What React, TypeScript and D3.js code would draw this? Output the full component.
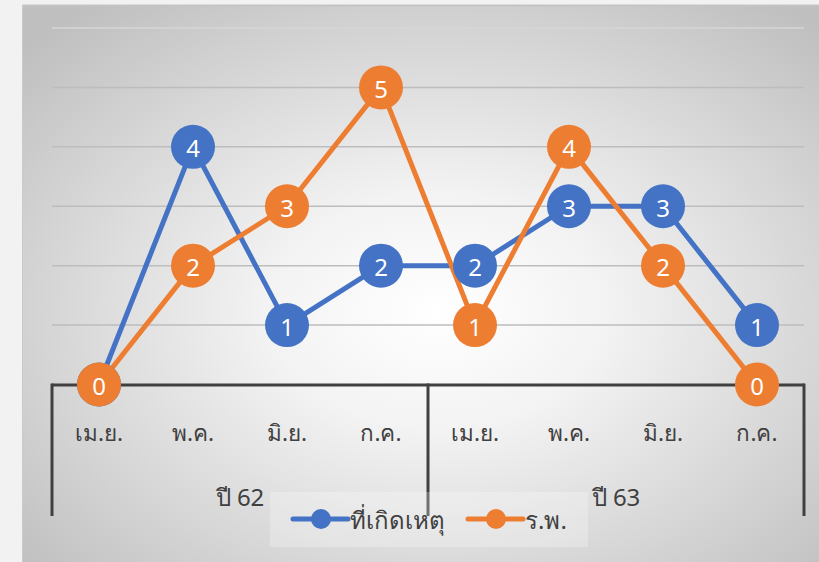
import React from "react";
import * as d3 from "d3";

const months = ["เม.ย.", "พ.ค.", "มิ.ย.", "ก.ค.", "เม.ย.", "พ.ค.", "มิ.ย.", "ก.ค."];
const years = ["ปี 62", "ปี 63"];
const seriesNames = ["ที่เกิดเหตุ", "ร.พ."];
const incidentValues = [0, 4, 1, 2, 2, 3, 3, 1];
const hospitalValues = [0, 2, 3, 5, 1, 4, 2, 0];
const gridTicks = [1, 2, 3, 4, 5, 6];
const colors = ["#4472C4", "#ED7D31"];

const W = 819;
const H = 562;
const FONT = "'Noto Sans', 'Open Sans', sans-serif";

export default function App() {
  const x = d3.scaleBand<number>().domain(d3.range(months.length)).range([52, 804]);
  const y = d3.scaleLinear().domain([0, 6]).range([384.5, 28]);
  const cx = (i: number) => (x(i) as number) + x.bandwidth() / 2;
  const line = d3
    .line<number>()
    .x((_, i) => cx(i))
    .y((d) => y(d));
  const series = [incidentValues, hospitalValues];

  return (
    <svg
      width={W}
      height={H}
      style={{ position: "absolute", left: 0, top: 0, display: "block" }}
    >
      <defs>
        <radialGradient id="bg" cx="52%" cy="55%" r="70%" fx="52%" fy="55%">
          <stop offset="0%" stopColor="#ffffff" />
          <stop offset="30%" stopColor="#f3f3f3" />
          <stop offset="100%" stopColor="#bfbfbf" />
        </radialGradient>
      </defs>
      <rect x={0} y={0} width={W} height={H} fill="#f2f2f2" />
      <rect x={22} y={5} width={W - 22} height={H - 5} fill="url(#bg)" />
      <line x1={22} x2={W} y1={5.5} y2={5.5} stroke="#c4c4c4" strokeWidth={2} />
      <line x1={22.5} x2={22.5} y1={5} y2={H} stroke="#cacaca" strokeWidth={1} />

      {gridTicks.map((t) => (
        <line
          key={t}
          x1={52}
          x2={804}
          y1={y(t)}
          y2={y(t)}
          stroke={t === 6 ? "#d6d6d6" : "#bdbdbd"}
          strokeWidth={1.5}
        />
      ))}

      {/* axis */}
      <line x1={52} x2={804} y1={385} y2={385} stroke="#404040" strokeWidth={3} />
      <line x1={52} x2={52} y1={383.5} y2={516} stroke="#404040" strokeWidth={3} />
      <line x1={428} x2={428} y1={383.5} y2={516} stroke="#404040" strokeWidth={3} />
      <line x1={804} x2={804} y1={383.5} y2={516} stroke="#404040" strokeWidth={3} />

      {months.map((m, i) => (
        <text
          key={i}
          x={cx(i)}
          y={432}
          textAnchor="middle"
          dominantBaseline="central"
          fontFamily={FONT}
          fontSize={22.5}
          fill="#404040"
        >
          {m}
        </text>
      ))}
      {years.map((yr, g) => (
        <text
          key={yr}
          x={(cx(g * 4) + cx(g * 4 + 3)) / 2}
          y={496}
          textAnchor="middle"
          dominantBaseline="central"
          fontFamily={FONT}
          fontSize={24}
          fill="#404040"
        >
          {yr}
        </text>
      ))}

      {/* legend */}
      <rect x={270} y={492} width={318} height={55} fill="#ffffff" opacity={0.25} />
      {seriesNames.map((name, k) => {
        const lx = k === 0 ? 293 : 468;
        return (
          <g key={name}>
            <line x1={lx} x2={lx + 55} y1={519} y2={519} stroke={colors[k]} strokeWidth={5} strokeLinecap="round" />
            <circle cx={lx + 28} cy={519} r={10} fill={colors[k]} />
            <text
              x={lx + 57}
              y={519}
              dominantBaseline="central"
              fontFamily={FONT}
              fontSize={24}
              fill="#404040"
            >
              {name}
            </text>
          </g>
        );
      })}

      {series.map((vals, k) => (
        <g key={k}>
          <path d={line(vals) || ""} fill="none" stroke={colors[k]} strokeWidth={5} strokeLinejoin="round" />
        </g>
      ))}
      {series.map((vals, k) => (
        <g key={"m" + k}>
          {vals.map((v, i) => (
            <g key={i}>
              <circle cx={cx(i)} cy={y(v)} r={22} fill={colors[k]} />
              <text
                x={cx(i)}
                y={y(v) + 1}
                textAnchor="middle"
                dominantBaseline="central"
                fontFamily={FONT}
                fontSize={24}
                fill="#ffffff"
              >
                {v}
              </text>
            </g>
          ))}
        </g>
      ))}
    </svg>
  );
}
